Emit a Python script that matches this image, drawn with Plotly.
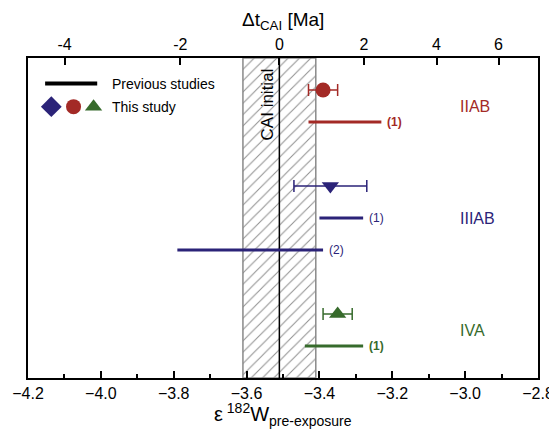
import math
import plotly.graph_objects as go

# ---------------- data ----------------
groups = ["IIAB", "IIIAB", "IVA"]
group_colors = ["#a32a26", "#2b2378", "#376b2c"]
this_study_eps = [-3.39, -3.37, -3.35]
this_study_err = [0.04, 0.10, 0.04]
this_study_symbol = ["circle", "triangle-down", "triangle-up"]

prev_group = ["IIAB", "IIIAB", "IIIAB", "IVA"]
prev_lo = [-3.43, -3.40, -3.79, -3.44]
prev_hi = [-3.23, -3.28, -3.39, -3.28]
prev_ref = ["(1)", "(1)", "(2)", "(1)"]

cai_eps = -3.51
cai_err = 0.10
chondrite_eps = -1.9
w_decay_const = 0.078  # 1/Ma
top_tick_labels = [-4, -2, 0, 2, 4, 6]

# ---------------- layout of rows ----------------
row = 1
marker_rows, prev_rows, group_rows = {}, [], {}
for g in groups:
    rows_g = [row]
    marker_rows[g] = row
    row += 1
    for pg in prev_group:
        if pg == g:
            prev_rows.append(row)
            rows_g.append(row)
            row += 1
    group_rows[g] = rows_g
    row += 1
y_max = row - 1  # 10

FONT = "Liberation Sans, Arial, Helvetica, sans-serif"
ref_label_bold = {"IIAB": True, "IIIAB": False, "IVA": True}
fig = go.Figure()

# hatched CAI initial band
fig.add_trace(go.Scatter(
    x=[cai_eps - cai_err, cai_eps + cai_err, cai_eps + cai_err, cai_eps - cai_err, cai_eps - cai_err],
    y=[0, 0, y_max, y_max, 0], mode="lines", fill="toself", fillcolor="white",
    fillpattern=dict(shape="/", size=8, solidity=0.13, fgcolor="#222222", bgcolor="white"),
    line=dict(color="#8a8a8a", width=1.5), showlegend=False, hoverinfo="skip"))
fig.add_trace(go.Scatter(x=[cai_eps, cai_eps], y=[0, y_max], mode="lines",
                         line=dict(color="black", width=1.5), showlegend=False, hoverinfo="skip"))

# previous studies
color_of = dict(zip(groups, group_colors))
for g, lo, hi, ref, r in zip(prev_group, prev_lo, prev_hi, prev_ref, prev_rows):
    fig.add_trace(go.Scatter(x=[lo, hi], y=[r, r], mode="lines",
                             line=dict(color=color_of[g], width=3), showlegend=False))
    txt = f"<b>{ref}</b>" if ref_label_bold[g] else ref
    fig.add_annotation(x=hi, y=r, text=txt, showarrow=False, xanchor="left", xshift=4,
                       font=dict(family=FONT, size=12, color=color_of[g]))

# this study
for g, e, err, sym, col in zip(groups, this_study_eps, this_study_err, this_study_symbol, group_colors):
    fig.add_trace(go.Scatter(x=[e], y=[marker_rows[g]], mode="markers",
                             marker=dict(symbol=sym, size=15, color=col, opacity=1,
                                         line=dict(width=0)),
                             error_x=dict(type="data", array=[err], color=col, thickness=1.5, width=6),
                             showlegend=False))
    gy = sum(group_rows[g]) / len(group_rows[g])
    fig.add_annotation(x=-3.02, y=gy, text=g, showarrow=False, xanchor="left",
                       font=dict(family=FONT, size=16, color=col))

# CAI initial label
fig.add_annotation(x=cai_eps - 0.033, y=1.44, text="CAI initial", textangle=-90, showarrow=False,
                   font=dict(family=FONT, size=17, color="black"))

# manual legend
fig.add_trace(go.Scatter(x=[-4.153, -4.01], y=[0.8, 0.8], mode="lines",
                         line=dict(color="black", width=4), showlegend=False, hoverinfo="skip"))
legend_syms = ["diamond", "circle", "triangle-up"]
legend_cols = [group_colors[1], group_colors[0], group_colors[2]]
legend_x = [-4.136, -4.075, -4.02]
for lx, ls, lc in zip(legend_x, legend_syms, legend_cols):
    fig.add_trace(go.Scatter(x=[lx], y=[1.52], mode="markers",
                             marker=dict(symbol=ls, size=16 if ls == "diamond" else 15, color=lc,
                                         opacity=1, line=dict(width=0)),
                             showlegend=False, hoverinfo="skip"))
fig.add_annotation(x=-3.975, y=0.8, text="Previous studies", showarrow=False, xanchor="left",
                   font=dict(family=FONT, size=14, color="black"))
fig.add_annotation(x=-3.975, y=1.52, text="This study", showarrow=False, xanchor="left",
                   font=dict(family=FONT, size=14, color="black"))

# top axis (Δt relative to CAI)
top_tick_vals = [chondrite_eps + (cai_eps - chondrite_eps) * math.exp(-w_decay_const * t)
                 for t in top_tick_labels]
fig.add_trace(go.Scatter(x=[-4.2], y=[0], xaxis="x2", mode="markers",
                         marker=dict(opacity=0), showlegend=False, hoverinfo="skip"))

# the page body adds an 8px offset, so the figure is 8px smaller on each axis
fig.update_layout(
    width=549, height=424, margin=dict(l=20, r=19, t=50, b=54, autoexpand=False),
    paper_bgcolor="white", plot_bgcolor="white",
    font=dict(family=FONT, size=16, color="black"),
    xaxis=dict(range=[-4.2, -2.8], dtick=0.2, tick0=-4.2, tickformat=".1f",
               ticks="inside", ticklen=7, tickwidth=1.5, tickcolor="black",
               minor=dict(dtick=0.1, ticks="inside", ticklen=4, tickwidth=1.5, tickcolor="black"),
               showline=True, linewidth=2, linecolor="black", showgrid=False, zeroline=False,
               tickfont=dict(size=16), automargin=False, ticklabeloverflow="allow"),
    xaxis2=dict(range=[-4.2, -2.8], overlaying="x", side="top",
                tickmode="array", tickvals=top_tick_vals, ticktext=[str(t) for t in top_tick_labels],
                ticks="inside", ticklen=7, tickwidth=1.5, tickcolor="black",
                showline=True, linewidth=2, linecolor="black", showgrid=False, zeroline=False,
                tickfont=dict(size=16), automargin=False, ticklabeloverflow="allow"),
    yaxis=dict(range=[y_max, 0], showline=True, mirror=True, linewidth=2, linecolor="black",
               showticklabels=False, ticks="", showgrid=False, zeroline=False, automargin=False),
)

fig.add_annotation(xref="paper", yref="paper", x=0.5, y=1, yshift=37, yanchor="middle",
                   showarrow=False, text="Δt<sub>CAI</sub> [Ma]", font=dict(family=FONT, size=19))
fig.add_annotation(xref="paper", yref="paper", x=0.5, y=0, yshift=-36, yanchor="middle",
                   showarrow=False, text="ε<sup> 182</sup>W<sub>pre-exposure</sub>",
                   font=dict(family=FONT, size=20))

fig.write_html("out.html")
